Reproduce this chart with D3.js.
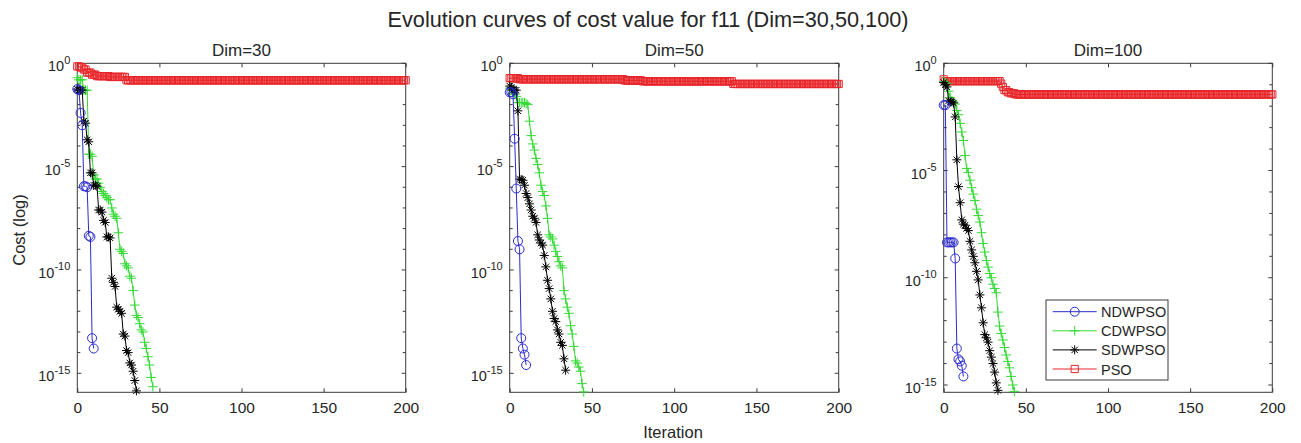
<!DOCTYPE html>
<html>
<head>
<meta charset="utf-8">
<script src="https://cdn.jsdelivr.net/npm/d3@7"></script>
<style>
  body { margin: 0; background: #fff; }
  svg { display: block; }
  text { font-family: "Liberation Sans", Arial, sans-serif; fill: #262626; }
</style>
</head>
<body>
<svg id="chart" width="1301" height="443"></svg>
<script>
// ---- data -------------------------------------------------------------
const chartTitle = "Evolution curves of cost value for f11 (Dim=30,50,100)";
const panelTitles = ["Dim=30", "Dim=50", "Dim=100"];
const seriesNames = ["NDWPSO", "CDWPSO", "SDWPSO", "PSO"];
const iterationTicks = [0, 50, 100, 150, 200];
const costTickExponents = [0, -5, -10, -15];

// log10(best cost) per iteration, from iteration 0; each run stops once the cost reaches 0
const ndwpso30 = [-1.25, -1.3, -2.4, -3.0, -5.95, -5.95, -6.0, -8.35, -8.4, -13.3, -13.8];
const cdwpso30 = [-0.7, -0.8, -0.8, -0.8, -1.3, -1.3, -1.3, -4.4, -4.4, -4.5, -5.4, -5.6, -5.6, -5.8, -6.0, -6.2,
                  -6.3, -6.4, -6.5, -6.6, -6.6, -7.0, -7.3, -7.4, -7.5, -8.2, -9.0, -9.1, -9.2, -9.7, -9.8, -9.9,
                  -10.3, -10.4, -11.0, -11.7, -12.2, -12.3, -12.6, -12.9, -13.0, -13.5, -13.8, -14.2, -14.6, -15.2, -15.65];
const sdwpso30 = [-1.25, -1.3, -1.3, -1.3, -2.8, -2.9, -3.7, -3.8, -5.3, -5.3, -5.9, -5.9, -5.95, -7.1, -7.1, -7.2,
                  -7.6, -7.7, -8.4, -8.4, -8.45, -10.4, -10.6, -10.8, -11.8, -11.9, -12.0, -12.1, -13.1, -13.2, -13.9,
                  -14.0, -14.5, -14.6, -14.9, -15.35, -15.85];

const ndwpso50 = [-1.4, -1.4, -1.5, -3.65, -6.06, -8.6, -9.0, -13.3, -13.8, -14.1, -14.6];
const cdwpso50 = [-1.2, -1.3, -1.4, -1.5, -1.6, -1.9, -1.9, -1.9, -1.9, -1.9, -1.95, -2.0, -2.8, -3.5, -3.9, -4.2,
                  -4.6, -4.9, -5.3, -5.9, -6.2, -6.4, -6.9, -7.5, -8.3, -8.4, -8.5, -8.8, -9.1, -9.35, -9.6, -9.8,
                  -9.9, -11.0, -11.4, -11.8, -12.1, -12.7, -13.1, -13.7, -14.4, -14.5, -14.7, -14.9, -15.5, -15.9];
const sdwpso50 = [-1.1, -1.16, -1.3, -1.3, -1.3, -2.3, -5.6, -5.63, -5.66, -5.9, -6.3, -6.5, -6.8, -7.1, -7.4, -7.5,
                  -7.7, -8.3, -8.55, -8.7, -8.8, -9.3, -9.85, -10.5, -10.9, -11.4, -12.0, -12.35, -12.5, -12.9, -13.1,
                  -13.5, -13.65, -14.3, -14.85];

const ndwpso100 = [-1.95, -1.95, -8.35, -8.35, -8.35, -8.35, -8.35, -9.1, -13.3, -13.8, -13.9, -14.1, -14.6];
const cdwpso100 = [-0.85, -0.9, -0.95, -1.3, -1.6, -1.75, -1.8, -1.9, -2.2, -2.4, -2.8, -3.2, -3.6, -4.3, -4.9, -5.1,
                   -5.45, -5.8, -6.1, -6.4, -6.8, -7.1, -7.4, -7.9, -8.4, -8.8, -9.2, -9.5, -9.8, -10.0, -10.3, -10.5,
                   -10.7, -11.6, -12.25, -12.6, -12.9, -13.25, -13.6, -13.9, -14.2, -14.6, -15.0, -15.3];
const sdwpso100 = [-0.9, -1.0, -1.1, -1.75, -1.8, -1.8, -1.85, -2.5, -4.5, -5.75, -6.5, -7.3, -7.5, -7.55, -7.7, -7.8,
                   -8.3, -8.7, -9.0, -9.3, -9.7, -10.1, -10.8, -11.4, -12.1, -12.65, -12.8, -13.0, -13.4, -13.7, -14.0,
                   -14.4, -14.9, -15.25];

// PSO best cost held over runs of iterations: [log10(cost), number of iterations]
const pso30 = [[-0.15, 2], [-0.2, 2], [-0.3, 2], [-0.45, 3], [-0.55, 3], [-0.62, 8], [-0.66, 10], [-0.82, 171]];
const pso50 = [[-0.72, 6], [-0.77, 64], [-0.83, 11], [-0.87, 55], [-1.0, 65]];
const pso100 = [[-0.75, 1], [-0.83, 34], [-0.95, 1], [-1.1, 1], [-1.25, 2], [-1.35, 2], [-1.4, 3], [-1.45, 157]];

// ---- layout -----------------------------------------------------------
const panels = [
  { title: panelTitles[0], left: 77.3, right: 405.7, yMinExp: -15.92, nd: ndwpso30, cd: cdwpso30, sd: sdwpso30, pso: pso30 },
  { title: panelTitles[1], left: 509.7, right: 838.7, yMinExp: -15.92, nd: ndwpso50, cd: cdwpso50, sd: sdwpso50, pso: pso50 },
  { title: panelTitles[2], left: 943.7, right: 1272.3, yMinExp: -15.34, nd: ndwpso100, cd: cdwpso100, sd: sdwpso100, pso: pso100 }
];
const plotTop = 63.3, plotBottom = 392.3;

const styles = {
  NDWPSO: { color: "#2b2bd0", marker: "circle" },
  CDWPSO: { color: "#35d935", marker: "plus" },
  SDWPSO: { color: "#000000", marker: "star" },
  PSO:    { color: "#e8262a", marker: "square" }
};

const markerPaths = {
  circle: "M4.5,0A4.5,4.5 0 1,1 -4.5,0A4.5,4.5 0 1,1 4.5,0Z",
  plus: "M-4.8,0H4.8M0,-4.8V4.8",
  star: "M-4.5,0H4.5M0,-4.5V4.5M-3.2,-3.2L3.2,3.2M-3.2,3.2L3.2,-3.2",
  square: "M-3.6,-3.6H3.6V3.6H-3.6Z"
};

const expand = runs => runs.flatMap(([e, n]) => Array(n).fill(e));
const toPoints = exps => exps.map((e, i) => ({ it: i, cost: Math.pow(10, e) }));

const svg = d3.select("#chart");

svg.append("text")
  .attr("x", 648).attr("y", 27)
  .attr("text-anchor", "middle")
  .style("font-size", "21.7px")
  .text(chartTitle);

panels.forEach((p, pi) => {
  const x = d3.scaleLinear().domain([0, 200]).range([p.left, p.right]);
  const y = d3.scaleLog().domain([Math.pow(10, p.yMinExp), 1]).range([plotBottom, plotTop]);
  const g = svg.append("g");

  // frame
  g.append("rect")
    .attr("x", p.left).attr("y", plotTop)
    .attr("width", p.right - p.left).attr("height", plotBottom - plotTop)
    .attr("fill", "#fff").attr("stroke", "#3a3a3a").attr("stroke-width", 1);

  // x ticks (inward, bottom and top)
  const xAxisB = d3.axisBottom(x).tickValues(iterationTicks).tickSizeInner(-4).tickSizeOuter(0).tickPadding(10);
  const gx = g.append("g").attr("transform", `translate(0,${plotBottom})`).call(xAxisB);
  gx.select(".domain").remove();
  gx.selectAll("line").attr("stroke", "#3a3a3a");
  gx.selectAll("text").style("font-size", "15.5px").attr("fill", "#262626").attr("font-family", null);
  const gxt = g.append("g").attr("transform", `translate(0,${plotTop})`)
    .call(d3.axisTop(x).tickValues(iterationTicks).tickSizeInner(-4).tickSizeOuter(0).tickFormat(""));
  gxt.select(".domain").remove();
  gxt.selectAll("line").attr("stroke", "#3a3a3a");

  // y ticks: every decade, labels every 5 decades
  const decades = d3.range(0, Math.ceil(p.yMinExp) - 1, -1);
  decades.forEach(e => {
    const yy = y(Math.pow(10, e));
    const len = costTickExponents.includes(e) ? 4 : 3;
    g.append("line").attr("x1", p.left).attr("x2", p.left + len).attr("y1", yy).attr("y2", yy).attr("stroke", "#3a3a3a");
    g.append("line").attr("x1", p.right).attr("x2", p.right - len).attr("y1", yy).attr("y2", yy).attr("stroke", "#3a3a3a");
  });
  costTickExponents.forEach(e => {
    const yy = y(Math.pow(10, e));
    const t = g.append("text")
      .attr("x", p.left - 7).attr("y", yy + 8)
      .attr("text-anchor", "end")
      .style("font-size", "14.5px");
    t.append("tspan").text("10");
    t.append("tspan").attr("dy", -7.5).style("font-size", "11px").text(e === 0 ? "0" : "-" + (-e));
  });

  // panel title
  g.append("text")
    .attr("x", (p.left + p.right) / 2).attr("y", 56)
    .attr("text-anchor", "middle")
    .style("font-size", "17px")
    .text(p.title);

  // series
  const seriesData = [
    ["PSO", toPoints(expand(p.pso))],
    ["CDWPSO", toPoints(p.cd)],
    ["SDWPSO", toPoints(p.sd)],
    ["NDWPSO", toPoints(p.nd)]
  ];
  const line = d3.line().x(d => x(d.it)).y(d => y(d.cost));
  seriesData.forEach(([name, pts]) => {
    const st = styles[name];
    g.append("path").datum(pts)
      .attr("d", line)
      .attr("fill", "none").attr("stroke", st.color).attr("stroke-width", 1);
    g.append("g").selectAll("path").data(pts).join("path")
      .attr("d", markerPaths[st.marker])
      .attr("transform", d => `translate(${x(d.it)},${y(d.cost)})`)
      .attr("fill", "none").attr("stroke", st.color).attr("stroke-width", 1);
  });
});

// axis labels
svg.append("text")
  .attr("transform", "translate(25,230) rotate(-90)")
  .attr("text-anchor", "middle")
  .style("font-size", "16.5px")
  .text("Cost (log)");
svg.append("text")
  .attr("x", 673).attr("y", 438)
  .attr("text-anchor", "middle")
  .style("font-size", "16.5px")
  .text("Iteration");

// legend in the last panel
const lg = svg.append("g");
lg.append("rect").attr("x", 1046).attr("y", 300).attr("width", 122).attr("height", 80)
  .attr("fill", "#fff").attr("stroke", "#3a3a3a").attr("stroke-width", 1);
seriesNames.forEach((name, i) => {
  const yy = 311.7 + i * 19.1;
  const st = styles[name];
  lg.append("line").attr("x1", 1052.7).attr("x2", 1096.7).attr("y1", yy).attr("y2", yy)
    .attr("stroke", st.color).attr("stroke-width", 1);
  lg.append("path").attr("d", markerPaths[st.marker]).attr("transform", `translate(1074.7,${yy})`)
    .attr("fill", "none").attr("stroke", st.color).attr("stroke-width", 1);
  lg.append("text").attr("x", 1101).attr("y", yy + 5.5).style("font-size", "14.5px").text(name);
});
</script>
</body>
</html>
